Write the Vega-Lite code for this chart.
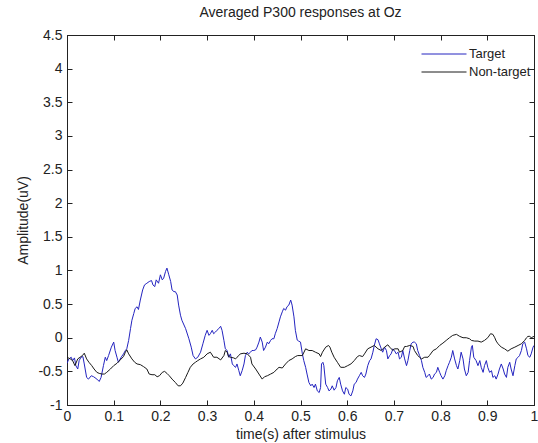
{
  "$schema": "https://vega.github.io/schema/vega-lite/v6.json",
  "width": 467,
  "height": 370,
  "autosize": "none",
  "padding": {"left": 67, "top": 35, "right": 4, "bottom": 38},
  "background": "white",
  "config": {
    "view": {"stroke": "#222222", "strokeWidth": 1},
    "font": "Liberation Sans",
    "axis": {"labelFont": "Liberation Sans", "titleFont": "Liberation Sans", "labelFontSize": 14, "titleFontSize": 14, "titleFontWeight": "normal", "labelColor": "#222222", "titleColor": "#222222", "domainColor": "#222222", "tickColor": "#222222", "grid": false}
  },
  "title": {"text": "Averaged P300 responses at Oz", "fontSize": 14, "fontWeight": "normal", "font": "Liberation Sans", "color": "#222222", "offset": 8},
  "datasets": {
    "target": [
      {"t":0.000,"v":-0.38},{"t":0.004,"v":-0.315},{"t":0.009,"v":-0.29},{"t":0.012,"v":-0.34},{"t":0.016,"v":-0.30},{"t":0.019,"v":-0.415},{"t":0.023,"v":-0.465},{"t":0.026,"v":-0.34},{"t":0.030,"v":-0.29},{"t":0.034,"v":-0.28},{"t":0.037,"v":-0.39},{"t":0.042,"v":-0.59},{"t":0.046,"v":-0.615},{"t":0.052,"v":-0.565},{"t":0.057,"v":-0.58},{"t":0.064,"v":-0.615},{"t":0.069,"v":-0.65},{"t":0.073,"v":-0.59},{"t":0.078,"v":-0.415},{"t":0.082,"v":-0.29},{"t":0.085,"v":-0.34},{"t":0.089,"v":-0.265},{"t":0.095,"v":-0.14},{"t":0.100,"v":-0.065},{"t":0.103,"v":-0.19},{"t":0.107,"v":-0.29},{"t":0.110,"v":-0.365},{"t":0.116,"v":-0.29},{"t":0.121,"v":-0.24},{"t":0.125,"v":-0.19},{"t":0.128,"v":-0.165},{"t":0.132,"v":-0.04},{"t":0.136,"v":0.135},{"t":0.139,"v":0.26},{"t":0.143,"v":0.36},{"t":0.146,"v":0.435},{"t":0.150,"v":0.46},{"t":0.153,"v":0.42},{"t":0.157,"v":0.56},{"t":0.162,"v":0.71},{"t":0.166,"v":0.785},{"t":0.171,"v":0.81},{"t":0.176,"v":0.835},{"t":0.181,"v":0.85},{"t":0.184,"v":0.785},{"t":0.188,"v":0.76},{"t":0.191,"v":0.86},{"t":0.196,"v":0.81},{"t":0.200,"v":0.935},{"t":0.204,"v":0.86},{"t":0.207,"v":0.885},{"t":0.211,"v":0.985},{"t":0.214,"v":1.035},{"t":0.218,"v":0.935},{"t":0.222,"v":0.835},{"t":0.225,"v":0.71},{"t":0.229,"v":0.685},{"t":0.232,"v":0.685},{"t":0.236,"v":0.635},{"t":0.239,"v":0.485},{"t":0.243,"v":0.335},{"t":0.246,"v":0.26},{"t":0.254,"v":0.135},{"t":0.261,"v":-0.015},{"t":0.266,"v":-0.14},{"t":0.270,"v":-0.265},{"t":0.275,"v":-0.315},{"t":0.280,"v":-0.29},{"t":0.286,"v":-0.215},{"t":0.291,"v":-0.09},{"t":0.296,"v":0.035},{"t":0.300,"v":0.11},{"t":0.304,"v":0.035},{"t":0.307,"v":0.06},{"t":0.311,"v":0.11},{"t":0.314,"v":0.06},{"t":0.318,"v":0.085},{"t":0.321,"v":0.11},{"t":0.325,"v":0.135},{"t":0.329,"v":0.17},{"t":0.332,"v":0.11},{"t":0.336,"v":-0.04},{"t":0.339,"v":-0.165},{"t":0.343,"v":-0.19},{"t":0.346,"v":-0.29},{"t":0.350,"v":-0.24},{"t":0.354,"v":-0.39},{"t":0.357,"v":-0.415},{"t":0.361,"v":-0.44},{"t":0.364,"v":-0.39},{"t":0.368,"v":-0.49},{"t":0.371,"v":-0.565},{"t":0.375,"v":-0.49},{"t":0.379,"v":-0.39},{"t":0.382,"v":-0.265},{"t":0.386,"v":-0.215},{"t":0.389,"v":-0.24},{"t":0.393,"v":-0.215},{"t":0.396,"v":-0.19},{"t":0.400,"v":-0.19},{"t":0.404,"v":-0.18},{"t":0.407,"v":-0.14},{"t":0.411,"v":-0.065},{"t":0.414,"v":0.01},{"t":0.418,"v":-0.065},{"t":0.421,"v":-0.19},{"t":0.425,"v":-0.14},{"t":0.429,"v":-0.065},{"t":0.432,"v":-0.09},{"t":0.436,"v":-0.04},{"t":0.439,"v":-0.015},{"t":0.443,"v":-0.015},{"t":0.446,"v":0.06},{"t":0.450,"v":0.135},{"t":0.454,"v":0.235},{"t":0.457,"v":0.31},{"t":0.461,"v":0.385},{"t":0.464,"v":0.435},{"t":0.468,"v":0.41},{"t":0.471,"v":0.46},{"t":0.475,"v":0.485},{"t":0.479,"v":0.56},{"t":0.482,"v":0.485},{"t":0.486,"v":0.31},{"t":0.489,"v":0.11},{"t":0.493,"v":-0.035},{"t":0.496,"v":-0.05},{"t":0.500,"v":-0.065},{"t":0.504,"v":-0.24},{"t":0.507,"v":-0.34},{"t":0.511,"v":-0.44},{"t":0.514,"v":-0.54},{"t":0.518,"v":-0.665},{"t":0.522,"v":-0.715},{"t":0.525,"v":-0.69},{"t":0.529,"v":-0.74},{"t":0.532,"v":-0.69},{"t":0.536,"v":-0.79},{"t":0.540,"v":-0.815},{"t":0.543,"v":-0.74},{"t":0.545,"v":-0.39},{"t":0.548,"v":-0.365},{"t":0.550,"v":-0.415},{"t":0.554,"v":-0.69},{"t":0.558,"v":-0.74},{"t":0.561,"v":-0.79},{"t":0.565,"v":-0.765},{"t":0.568,"v":-0.715},{"t":0.572,"v":-0.78},{"t":0.576,"v":-0.74},{"t":0.579,"v":-0.64},{"t":0.583,"v":-0.59},{"t":0.586,"v":-0.69},{"t":0.590,"v":-0.79},{"t":0.594,"v":-0.84},{"t":0.597,"v":-0.74},{"t":0.601,"v":-0.765},{"t":0.604,"v":-0.84},{"t":0.608,"v":-0.865},{"t":0.612,"v":-0.79},{"t":0.615,"v":-0.69},{"t":0.619,"v":-0.665},{"t":0.622,"v":-0.615},{"t":0.626,"v":-0.565},{"t":0.630,"v":-0.515},{"t":0.633,"v":-0.565},{"t":0.637,"v":-0.59},{"t":0.640,"v":-0.54},{"t":0.644,"v":-0.415},{"t":0.648,"v":-0.34},{"t":0.651,"v":-0.315},{"t":0.655,"v":-0.215},{"t":0.658,"v":-0.115},{"t":0.662,"v":-0.015},{"t":0.666,"v":-0.03},{"t":0.669,"v":-0.09},{"t":0.673,"v":-0.165},{"t":0.676,"v":-0.215},{"t":0.680,"v":-0.14},{"t":0.684,"v":-0.19},{"t":0.687,"v":-0.315},{"t":0.691,"v":-0.265},{"t":0.694,"v":-0.24},{"t":0.698,"v":-0.165},{"t":0.701,"v":-0.19},{"t":0.705,"v":-0.24},{"t":0.709,"v":-0.215},{"t":0.712,"v":-0.315},{"t":0.716,"v":-0.29},{"t":0.719,"v":-0.19},{"t":0.723,"v":-0.315},{"t":0.727,"v":-0.415},{"t":0.730,"v":-0.34},{"t":0.734,"v":-0.19},{"t":0.737,"v":-0.09},{"t":0.741,"v":-0.065},{"t":0.744,"v":-0.065},{"t":0.748,"v":-0.09},{"t":0.751,"v":-0.19},{"t":0.755,"v":-0.265},{"t":0.759,"v":-0.34},{"t":0.762,"v":-0.44},{"t":0.766,"v":-0.515},{"t":0.769,"v":-0.59},{"t":0.773,"v":-0.565},{"t":0.776,"v":-0.54},{"t":0.780,"v":-0.615},{"t":0.784,"v":-0.59},{"t":0.787,"v":-0.54},{"t":0.791,"v":-0.515},{"t":0.794,"v":-0.44},{"t":0.798,"v":-0.515},{"t":0.801,"v":-0.565},{"t":0.805,"v":-0.615},{"t":0.809,"v":-0.565},{"t":0.812,"v":-0.49},{"t":0.816,"v":-0.415},{"t":0.819,"v":-0.365},{"t":0.823,"v":-0.29},{"t":0.826,"v":-0.19},{"t":0.830,"v":-0.315},{"t":0.834,"v":-0.415},{"t":0.837,"v":-0.465},{"t":0.841,"v":-0.34},{"t":0.844,"v":-0.215},{"t":0.848,"v":-0.315},{"t":0.851,"v":-0.465},{"t":0.855,"v":-0.565},{"t":0.859,"v":-0.515},{"t":0.862,"v":-0.34},{"t":0.866,"v":-0.14},{"t":0.868,"v":-0.115},{"t":0.871,"v":-0.29},{"t":0.876,"v":-0.34},{"t":0.880,"v":-0.415},{"t":0.884,"v":-0.34},{"t":0.887,"v":-0.44},{"t":0.891,"v":-0.515},{"t":0.894,"v":-0.415},{"t":0.898,"v":-0.34},{"t":0.901,"v":-0.44},{"t":0.905,"v":-0.515},{"t":0.909,"v":-0.49},{"t":0.912,"v":-0.59},{"t":0.916,"v":-0.565},{"t":0.919,"v":-0.615},{"t":0.923,"v":-0.54},{"t":0.926,"v":-0.465},{"t":0.930,"v":-0.39},{"t":0.934,"v":-0.465},{"t":0.937,"v":-0.54},{"t":0.941,"v":-0.59},{"t":0.944,"v":-0.44},{"t":0.948,"v":-0.365},{"t":0.951,"v":-0.465},{"t":0.955,"v":-0.565},{"t":0.959,"v":-0.415},{"t":0.962,"v":-0.315},{"t":0.966,"v":-0.29},{"t":0.969,"v":-0.265},{"t":0.973,"v":-0.19},{"t":0.976,"v":-0.09},{"t":0.980,"v":-0.065},{"t":0.984,"v":-0.165},{"t":0.987,"v":-0.265},{"t":0.991,"v":-0.29},{"t":0.994,"v":-0.24},{"t":0.998,"v":-0.14},{"t":1.000,"v":-0.115}
    ],
    "nontarget": [
      {"t":0.000,"v":-0.29},{"t":0.007,"v":-0.315},{"t":0.012,"v":-0.34},{"t":0.017,"v":-0.415},{"t":0.023,"v":-0.315},{"t":0.028,"v":-0.29},{"t":0.033,"v":-0.265},{"t":0.037,"v":-0.23},{"t":0.042,"v":-0.315},{"t":0.047,"v":-0.365},{"t":0.053,"v":-0.415},{"t":0.058,"v":-0.465},{"t":0.064,"v":-0.515},{"t":0.069,"v":-0.53},{"t":0.075,"v":-0.54},{"t":0.080,"v":-0.54},{"t":0.085,"v":-0.515},{"t":0.093,"v":-0.465},{"t":0.100,"v":-0.415},{"t":0.107,"v":-0.38},{"t":0.114,"v":-0.33},{"t":0.121,"v":-0.28},{"t":0.125,"v":-0.215},{"t":0.128,"v":-0.18},{"t":0.132,"v":-0.24},{"t":0.139,"v":-0.315},{"t":0.145,"v":-0.365},{"t":0.150,"v":-0.39},{"t":0.157,"v":-0.40},{"t":0.164,"v":-0.43},{"t":0.171,"v":-0.465},{"t":0.176,"v":-0.54},{"t":0.182,"v":-0.55},{"t":0.188,"v":-0.55},{"t":0.193,"v":-0.58},{"t":0.198,"v":-0.565},{"t":0.204,"v":-0.515},{"t":0.209,"v":-0.50},{"t":0.214,"v":-0.53},{"t":0.219,"v":-0.565},{"t":0.225,"v":-0.615},{"t":0.232,"v":-0.665},{"t":0.238,"v":-0.715},{"t":0.243,"v":-0.715},{"t":0.248,"v":-0.675},{"t":0.254,"v":-0.59},{"t":0.259,"v":-0.515},{"t":0.264,"v":-0.44},{"t":0.270,"v":-0.39},{"t":0.275,"v":-0.365},{"t":0.280,"v":-0.34},{"t":0.286,"v":-0.315},{"t":0.293,"v":-0.29},{"t":0.300,"v":-0.24},{"t":0.307,"v":-0.215},{"t":0.314,"v":-0.29},{"t":0.321,"v":-0.29},{"t":0.329,"v":-0.33},{"t":0.336,"v":-0.265},{"t":0.339,"v":-0.19},{"t":0.343,"v":-0.215},{"t":0.346,"v":-0.28},{"t":0.350,"v":-0.29},{"t":0.357,"v":-0.30},{"t":0.361,"v":-0.315},{"t":0.364,"v":-0.29},{"t":0.368,"v":-0.265},{"t":0.371,"v":-0.24},{"t":0.379,"v":-0.23},{"t":0.386,"v":-0.24},{"t":0.393,"v":-0.29},{"t":0.396,"v":-0.39},{"t":0.404,"v":-0.465},{"t":0.411,"v":-0.54},{"t":0.418,"v":-0.615},{"t":0.423,"v":-0.58},{"t":0.429,"v":-0.565},{"t":0.436,"v":-0.54},{"t":0.443,"v":-0.515},{"t":0.450,"v":-0.465},{"t":0.454,"v":-0.44},{"t":0.461,"v":-0.45},{"t":0.468,"v":-0.39},{"t":0.475,"v":-0.34},{"t":0.482,"v":-0.315},{"t":0.489,"v":-0.28},{"t":0.494,"v":-0.265},{"t":0.504,"v":-0.265},{"t":0.511,"v":-0.165},{"t":0.518,"v":-0.19},{"t":0.525,"v":-0.19},{"t":0.532,"v":-0.215},{"t":0.540,"v":-0.24},{"t":0.543,"v":-0.28},{"t":0.547,"v":-0.215},{"t":0.554,"v":-0.14},{"t":0.560,"v":-0.115},{"t":0.563,"v":-0.14},{"t":0.567,"v":-0.215},{"t":0.572,"v":-0.29},{"t":0.579,"v":-0.365},{"t":0.586,"v":-0.44},{"t":0.594,"v":-0.44},{"t":0.601,"v":-0.415},{"t":0.608,"v":-0.39},{"t":0.615,"v":-0.34},{"t":0.622,"v":-0.28},{"t":0.626,"v":-0.265},{"t":0.633,"v":-0.28},{"t":0.637,"v":-0.24},{"t":0.644,"v":-0.165},{"t":0.651,"v":-0.14},{"t":0.658,"v":-0.115},{"t":0.666,"v":-0.165},{"t":0.673,"v":-0.19},{"t":0.680,"v":-0.14},{"t":0.687,"v":-0.105},{"t":0.691,"v":-0.14},{"t":0.698,"v":-0.19},{"t":0.701,"v":-0.165},{"t":0.709,"v":-0.165},{"t":0.712,"v":-0.215},{"t":0.719,"v":-0.19},{"t":0.723,"v":-0.13},{"t":0.727,"v":-0.13},{"t":0.734,"v":-0.115},{"t":0.741,"v":-0.13},{"t":0.744,"v":-0.19},{"t":0.751,"v":-0.265},{"t":0.755,"v":-0.29},{"t":0.759,"v":-0.315},{"t":0.766,"v":-0.29},{"t":0.773,"v":-0.29},{"t":0.776,"v":-0.265},{"t":0.784,"v":-0.19},{"t":0.791,"v":-0.165},{"t":0.798,"v":-0.115},{"t":0.805,"v":-0.08},{"t":0.812,"v":-0.04},{"t":0.819,"v":0.0},{"t":0.826,"v":0.035},{"t":0.834,"v":0.05},{"t":0.841,"v":0.02},{"t":0.848,"v":0.0},{"t":0.855,"v":0.0},{"t":0.862,"v":-0.015},{"t":0.866,"v":-0.04},{"t":0.873,"v":-0.05},{"t":0.880,"v":-0.05},{"t":0.887,"v":-0.065},{"t":0.894,"v":-0.04},{"t":0.901,"v":0.0},{"t":0.907,"v":0.06},{"t":0.912,"v":0.05},{"t":0.916,"v":0.0},{"t":0.919,"v":-0.05},{"t":0.923,"v":-0.09},{"t":0.930,"v":-0.14},{"t":0.937,"v":-0.165},{"t":0.944,"v":-0.20},{"t":0.951,"v":-0.165},{"t":0.959,"v":-0.14},{"t":0.966,"v":-0.115},{"t":0.973,"v":-0.09},{"t":0.980,"v":-0.04},{"t":0.984,"v":0.0},{"t":0.987,"v":0.02},{"t":0.991,"v":0.02},{"t":0.994,"v":0.0},{"t":1.000,"v":0.02}
    ]
  },
  "layer": [
    {
      "data": {"name": "target"},
      "mark": {"type": "line", "strokeWidth": 1, "clip": true},
      "encoding": {
        "x": {"field": "t", "type": "quantitative", "title": "time(s) after stimulus",
          "scale": {"domain": [0, 1], "nice": false, "zero": false},
          "axis": {"orient": "bottom", "values": [0,0.1,0.2,0.3,0.4,0.5,0.6,0.7,0.8,0.9,1], "format": "~g", "tickSize": -5, "labelPadding": 9, "titlePadding": 4, "labelFlush": false, "labelOverlap": false}},
        "y": {"field": "v", "type": "quantitative", "title": "Amplitude(uV)",
          "scale": {"domain": [-1, 4.5], "nice": false, "zero": false},
          "axis": {"orient": "left", "values": [-1,-0.5,0,0.5,1,1.5,2,2.5,3,3.5,4,4.5], "labelExpr": "replace(format(datum.value, '~g'), '\u2212', '-')", "tickSize": -5, "labelPadding": 10, "titlePadding": 7, "labelFlush": false, "labelOverlap": false}},
        "color": {"datum": "Target", "type": "nominal",
          "scale": {"domain": ["Target", "Non-target"], "range": ["#2424c0", "#1a1a1a"]},
          "legend": {"title": null, "orient": "none", "legendX": 354, "legendY": 10, "symbolType": "stroke", "symbolSize": 2025, "symbolStrokeWidth": 1, "clipHeight": 18, "rowPadding": 0, "padding": 0, "labelFontSize": 13, "labelFont": "Liberation Sans", "labelColor": "#222222", "labelOffset": 2}}
      }
    },
    {
      "data": {"name": "nontarget"},
      "mark": {"type": "line", "strokeWidth": 1, "clip": true},
      "encoding": {
        "x": {"field": "t", "type": "quantitative",
          "axis": {"orient": "top", "values": [0,0.1,0.2,0.3,0.4,0.5,0.6,0.7,0.8,0.9,1], "labels": false, "title": null, "tickSize": -5}},
        "y": {"field": "v", "type": "quantitative",
          "axis": {"orient": "right", "values": [-1,-0.5,0,0.5,1,1.5,2,2.5,3,3.5,4,4.5], "labels": false, "title": null, "tickSize": -5}},
        "color": {"datum": "Non-target", "type": "nominal"}
      }
    }
  ],
  "resolve": {"axis": {"x": "independent", "y": "independent"}, "scale": {"x": "shared", "y": "shared"}}
}
